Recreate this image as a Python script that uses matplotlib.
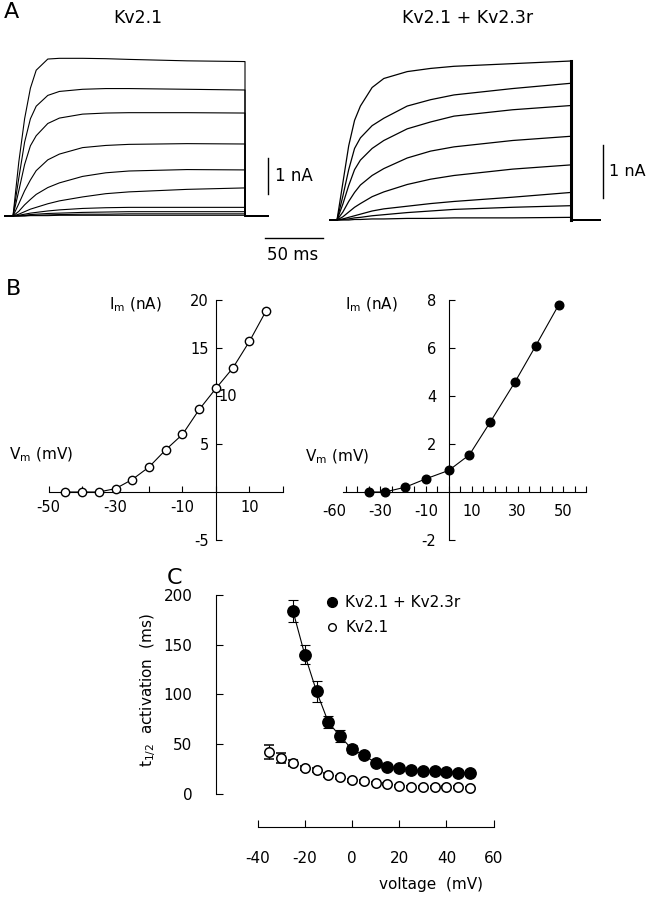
import numpy as np
import matplotlib
matplotlib.use('Agg')
import matplotlib.pyplot as plt
from matplotlib.lines import Line2D

plt.rcParams['font.family'] = ['DejaVu Sans']
plt.rcParams['mathtext.fontset'] = 'dejavusans'
plt.rcParams['axes.unicode_minus'] = False

W, H = 647, 899  # figure size in pixels

# ---- panel A: current traces (nA) sampled at trace_t (ms) ----
trace_t = [0, 5, 10, 15, 20, 30, 40, 60, 80, 100, 150, 200]
kv21_traces = [
    [0, 1.50, 2.70, 3.55, 4.05, 4.36, 4.38, 4.38, 4.37, 4.35, 4.31, 4.29],
    [0, 1.05, 2.05, 2.70, 3.05, 3.35, 3.46, 3.52, 3.54, 3.54, 3.52, 3.50],
    [0, 0.70, 1.43, 1.95, 2.23, 2.57, 2.72, 2.83, 2.86, 2.87, 2.87, 2.86],
    [0, 0.34, 0.70, 1.00, 1.26, 1.56, 1.72, 1.90, 1.96, 1.99, 2.01, 2.00],
    [0, 0.13, 0.31, 0.46, 0.60, 0.79, 0.92, 1.10, 1.20, 1.25, 1.29, 1.28],
    [0, 0.05, 0.12, 0.19, 0.24, 0.34, 0.42, 0.53, 0.62, 0.67, 0.74, 0.78],
    [0, 0.02, 0.05, 0.08, 0.10, 0.14, 0.17, 0.21, 0.23, 0.24, 0.24, 0.24],
    [0, 0.01, 0.02, 0.04, 0.05, 0.07, 0.08, 0.10, 0.11, 0.12, 0.12, 0.12],
    [0, 0.00, 0.01, 0.02, 0.02, 0.03, 0.04, 0.05, 0.05, 0.06, 0.06, 0.06],
    [0, 0.00, 0.00, 0.01, 0.01, 0.01, 0.02, 0.02, 0.02, 0.02, 0.02, 0.02],
]
kv23_traces = [
    [0, 0.70, 1.40, 1.88, 2.15, 2.50, 2.67, 2.80, 2.86, 2.90, 2.95, 3.00],
    [0, 0.45, 0.95, 1.35, 1.55, 1.78, 1.92, 2.15, 2.27, 2.36, 2.48, 2.58],
    [0, 0.30, 0.65, 0.95, 1.13, 1.35, 1.50, 1.72, 1.85, 1.96, 2.08, 2.16],
    [0, 0.15, 0.35, 0.52, 0.66, 0.84, 0.97, 1.17, 1.30, 1.38, 1.50, 1.58],
    [0, 0.06, 0.15, 0.24, 0.31, 0.44, 0.53, 0.67, 0.77, 0.84, 0.96, 1.04],
    [0, 0.02, 0.05, 0.08, 0.11, 0.17, 0.21, 0.26, 0.31, 0.35, 0.43, 0.52],
    [0, 0.01, 0.02, 0.04, 0.05, 0.08, 0.10, 0.14, 0.17, 0.20, 0.24, 0.27],
    [0, 0.00, 0.00, 0.01, 0.01, 0.02, 0.02, 0.03, 0.03, 0.04, 0.04, 0.05],
]

# ---- panel B: I-V curves ----
iv_kv21_v = [-45, -40, -35, -30, -25, -20, -15, -10, -5, 0, 5, 10, 15]
iv_kv21_i = [0, 0, 0, 0.35, 1.3, 2.6, 4.4, 6.0, 8.6, 10.8, 12.9, 15.7, 18.9]
iv_kv23_v = [-35, -28, -19, -10, 0, 9, 18, 29, 38, 48]
iv_kv23_i = [0, 0, 0.2, 0.55, 0.9, 1.55, 2.9, 4.6, 6.1, 7.8]

# ---- panel C: activation half-times (ms) ----
co_v = [-25, -20, -15, -10, -5, 0, 5, 10, 15, 20, 25, 30, 35, 40, 45, 50]
co_t = [184, 140, 103, 72, 58, 45, 39, 31.5, 27.5, 26, 24, 23, 23, 22.5, 21.5, 21]
co_err = [11, 9.5, 11, 6, 6, 4, 3, 2, 2, 2, 2, 2, 2, 2, 2, 2]
kv_v = [-35, -30, -25, -20, -15, -10, -5, 0, 5, 10, 15, 20, 25, 30, 35, 40, 45, 50]
kv_t = [42, 36, 31, 26, 24, 19, 17, 14, 13, 11, 10, 8.5, 7.5, 7, 7, 7, 7, 6]
kv_err = [7, 5, 3, 2, 2, 2, 1.5, 1.5, 1.5, 1, 1, 1, 1, 1, 1, 1, 1, 1]


def box(x0, y0, x1, y1):
    # pixel box (origin top-left) -> figure fraction rect
    return [x0 / W, 1 - y1 / H, (x1 - x0) / W, (y1 - y0) / H]


def ftext(x, y, s, **kw):
    fig.text(x / W, 1 - y / H, s, **kw)


def draw_traces(ax, traces, t_pre, t_post, lw):
    for tr in traces:
        t = np.concatenate([[t_pre], trace_t, [trace_t[-1], t_post]])
        i = np.concatenate([[0], tr, [0, 0]])
        ax.plot(t, i, color='k', lw=lw)


fig = plt.figure(figsize=(W / 100, H / 100), dpi=100)

# ================= A =================
axA1 = fig.add_axes(box(1.4, 50.4, 279.8, 234))
axA1.set_xlim(-10, 230)
axA1.set_ylim(-0.5, 4.6)
axA1.axis('off')
draw_traces(axA1, kv21_traces, -7, 220, 0.8)
axA1.plot([220, 220], [0.6, 1.6], color='k', lw=1, clip_on=False)
axA1.text(226, 1.1, '1 nA', fontsize=12, va='center', ha='left')
axA1.plot([217.2, 267.2], [-0.61, -0.61], color='k', lw=1, clip_on=False)
axA1.text(241.4, -1.08, '50 ms', fontsize=12, va='center', ha='center')

axA2 = fig.add_axes(box(325.3, 50.4, 612, 235.9))
axA2.set_xlim(-10, 235)
axA2.set_ylim(-0.3, 3.2)
axA2.axis('off')
draw_traces(axA2, kv23_traces, -6, 225, 0.9)
axA2.plot([200, 200], [0, kv23_traces[0][-1]], color='k', lw=2.2)
axA2.plot([227.4, 227.4], [0.415, 1.415], color='k', lw=1, clip_on=False)
ftext(609, 172, '1 nA', fontsize=11.5, va='center', ha='left')

ftext(11, 12, 'A', fontsize=16, ha='center', va='center')
ftext(138, 18, 'Kv2.1', fontsize=12.5, ha='center', va='center')
ftext(468, 18, 'Kv2.1 + Kv2.3r', fontsize=12.5, ha='center', va='center')


# ================= B =================
def iv_axes(rect, xlim, ylim, ybounds, xbounds):
    ax = fig.add_axes(rect)
    ax.set_xlim(*xlim)
    ax.set_ylim(*ylim)
    for s in ['top', 'right']:
        ax.spines[s].set_visible(False)
    ax.spines['left'].set_position(('data', 0))
    ax.spines['bottom'].set_position(('data', 0))
    ax.spines['left'].set_bounds(*ybounds)
    ax.spines['bottom'].set_bounds(*xbounds)
    for s in ['left', 'bottom']:
        ax.spines[s].set_linewidth(0.8)
    ax.patch.set_alpha(0)
    ax.xaxis.remove_overlapping_locs = False
    ax.tick_params(which='both', direction='in', width=0.8, labelsize=10.5)
    ax.tick_params(axis='x', which='major', length=0)
    ax.tick_params(axis='x', which='minor', length=4)
    ax.tick_params(axis='y', length=4)
    return ax


axB1 = iv_axes(box(41.8, 290.4, 289.7, 544.8), (-52, 22), (-5.5, 21), (-5, 20), (-50, 20))
axB1.set_xticks([-50, -30, -10, 10])
axB1.set_xticklabels(['-50', '-30', '-10', '10'])
axB1.set_xticks(np.arange(-50, 21, 10), minor=True)
axB1.set_yticks([-5, 5, 10, 15, 20])
axB1.set_yticklabels(['-5', '5', '', '15', '20'])
axB1.tick_params(axis='x', pad=6)
axB1.tick_params(axis='y', pad=5)
axB1.text(0.6, 10, '10', fontsize=10.5, ha='left', va='center')
axB1.plot(iv_kv21_v, iv_kv21_i, '-o', color='k', lw=0.8, ms=6,
          mfc='white', mec='k', mew=1, clip_on=False, zorder=3)
ftext(135, 305, r'I$_{\rm m}$ (nA)', fontsize=11, ha='center', va='center')
ftext(41, 455, r'V$_{\rm m}$ (mV)', fontsize=11, ha='center', va='center')

axB2 = iv_axes(box(334.3, 292.8, 590.8, 544.8), (-50, 62), (-2.2, 8.3), (-2, 8), (-46, 60))
axB2.set_xticks([-50, -30, -10, 10, 30, 50])
axB2.set_xticklabels(['-60', '-30', '-10', '10', '30', '50'])
axB2.set_xticks(np.arange(-45, 61, 5), minor=True)
axB2.set_yticks([-2, 2, 4, 6, 8])
axB2.tick_params(axis='x', pad=9)
axB2.tick_params(axis='y', pad=9)
axB2.plot(iv_kv23_v, iv_kv23_i, '-o', color='k', lw=0.8, ms=6.2,
          mfc='k', mec='k', clip_on=False, zorder=3)
ftext(371, 305, r'I$_{\rm m}$ (nA)', fontsize=11, ha='center', va='center')
ftext(337, 457, r'V$_{\rm m}$ (mV)', fontsize=11, ha='center', va='center')

ftext(13, 289, 'B', fontsize=16, ha='center', va='center')

# ================= C =================
axC = fig.add_axes(box(216, 590, 500.7, 827))
axC.set_xlim(-57.6, 63)
axC.set_ylim(-33.2, 205)
axC.patch.set_alpha(0)
for s in ['top', 'right']:
    axC.spines[s].set_visible(False)
axC.spines['left'].set_bounds(0, 200)
axC.spines['bottom'].set_bounds(-40, 60)
for s in ['left', 'bottom']:
    axC.spines[s].set_linewidth(0.8)
axC.set_yticks([0, 50, 100, 150, 200])
axC.set_xticks([-40, -20, 0, 20, 40, 60])
axC.tick_params(direction='in', length=5, width=0.8, labelsize=11)
axC.tick_params(axis='y', pad=17)
axC.tick_params(axis='x', pad=17)

axC.errorbar(kv_v, kv_t, yerr=kv_err, fmt='o', ms=6.8, mfc='white', mec='k',
             mew=1.1, ecolor='k', elinewidth=0.8, capsize=3.5, capthick=0.8,
             clip_on=False, zorder=3)
axC.errorbar(co_v, co_t, yerr=co_err, fmt='-o', color='k', lw=0.8, ms=8.2,
             mfc='k', mec='k', ecolor='k', elinewidth=0.8, capsize=3.5,
             capthick=0.8, clip_on=False, zorder=4)

handles = [Line2D([], [], ls='none', marker='o', ms=7, mfc='k', mec='k'),
           Line2D([], [], ls='none', marker='o', ms=5.5, mfc='white', mec='k', mew=1)]
axC.legend(handles, ['Kv2.1 + Kv2.3r', 'Kv2.1'], loc='upper left',
           bbox_to_anchor=(327 / W, 1 - 595 / H), bbox_transform=fig.transFigure,
           frameon=False, fontsize=11, handlelength=0.6, handletextpad=0.6,
           labelspacing=0.65, borderpad=0, borderaxespad=0)

ftext(148, 690, r't$_{1/2}$  activation  (ms)', fontsize=11, rotation=90,
      ha='center', va='center')
ftext(431, 885, 'voltage  (mV)', fontsize=11, ha='center', va='center')
ftext(174, 578, 'C', fontsize=16, ha='center', va='center')

fig.savefig('out.png', dpi=100)
